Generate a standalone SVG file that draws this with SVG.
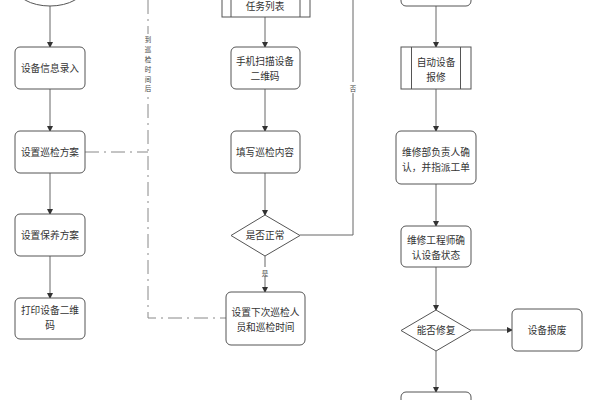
<svg xmlns="http://www.w3.org/2000/svg" width="600" height="400" viewBox="0 0 600 400">
<defs>
<marker id="ah" markerWidth="6" markerHeight="6" refX="5" refY="3" orient="auto" markerUnits="userSpaceOnUse">
<path d="M0,0 L6,3 L0,6 z" fill="#333"/>
</marker>
<style>
.n{fill:#fff;stroke:#555;stroke-width:1}
.t{font-family:"Liberation Sans","Noto Sans CJK SC",sans-serif;font-size:9.7px;fill:#333;text-anchor:middle}
.s{font-family:"Liberation Sans","Noto Sans CJK SC",sans-serif;font-size:6.5px;fill:#444;text-anchor:middle}
.c{fill:none;stroke:#666;stroke-width:1}
.a{marker-end:url(#ah)}
.d{fill:none;stroke:#888;stroke-width:1;stroke-dasharray:14 5 2 5}
</style>
</defs>
<rect width="600" height="400" fill="#fff"/>
<g id="connectors">
<path class="c a" d="M50,6 V47"/>
<path class="c a" d="M50,89 V131"/>
<path class="c a" d="M50,173 V214"/>
<path class="c a" d="M50,256 V298"/>
<path class="c a" d="M265,17 V47"/>
<path class="c a" d="M265,89 V131"/>
<path class="c a" d="M265,173 V215"/>
<path class="c a" d="M265,256 V292"/>
<path class="c" d="M300,235 H353 V0"/>
<path class="c a" d="M436,6 V47"/>
<path class="c a" d="M436,89 V131"/>
<path class="c a" d="M436,184 V226"/>
<path class="c a" d="M436,267 V310"/>
<path class="c a" d="M471,330 H512"/>
<path class="c a" d="M436,351 V392"/>
<path class="d" d="M85,152 H148"/>
<path class="d" d="M148,0 V318 H226"/>
<rect x="142" y="34" width="12" height="60" fill="#fff"/>
<text class="s" x="148" y="42">到</text>
<text class="s" x="148" y="52">巡</text>
<text class="s" x="148" y="62">检</text>
<text class="s" x="148" y="72">时</text>
<text class="s" x="148" y="82">间</text>
<text class="s" x="148" y="91">后</text>
<rect x="260" y="267" width="10" height="10" fill="#fff"/>
<text class="s" x="265" y="276">是</text>
<rect x="348" y="82" width="10" height="11" fill="#fff"/>
<text class="s" x="353" y="91">否</text>
</g>
<g id="start"><ellipse class="n" cx="50" cy="-14" rx="35" ry="20"/></g>
<g id="n1"><rect class="n" x="15" y="47" width="70" height="42" rx="5"/><text class="t" x="50" y="71.5">设备信息录入</text></g>
<g id="n2"><rect class="n" x="15" y="131" width="70" height="42" rx="5"/><text class="t" x="50" y="155.5">设置巡检方案</text></g>
<g id="n3"><rect class="n" x="15" y="214" width="70" height="42" rx="5"/><text class="t" x="50" y="238.5">设置保养方案</text></g>
<g id="n4"><rect class="n" x="15" y="298" width="70" height="41" rx="5"/><text class="t" x="50" y="314">打印设备二维</text><text class="t" x="50" y="329">码</text></g>
<g id="m0"><rect class="n" x="222" y="-25" width="88" height="42"/><path class="n" d="M231,-25 V17 M300,-25 V17"/><text class="t" x="265" y="9.5">任务列表</text></g>
<g id="m1"><rect class="n" x="231" y="47" width="69" height="42" rx="5"/><text class="t" x="265" y="65">手机扫描设备</text><text class="t" x="265" y="80">二维码</text></g>
<g id="m2"><rect class="n" x="231" y="131" width="69" height="42" rx="5"/><text class="t" x="265" y="155.5">填写巡检内容</text></g>
<g id="m3"><path class="n" d="M265,215 L300,235.5 L265,256 L231,235.5 z"/><text class="t" x="265" y="239">是否正常</text></g>
<g id="m4"><rect class="n" x="226" y="292" width="79" height="53" rx="5"/><text class="t" x="265.5" y="316">设置下次巡检人</text><text class="t" x="265.5" y="331">员和巡检时间</text></g>
<g id="r0"><rect class="n" x="401" y="-36" width="70" height="42" rx="5"/></g>
<g id="r1"><rect class="n" x="401" y="47" width="70" height="42"/><path class="n" d="M411.5,47 V89 M460.5,47 V89"/><text class="t" x="436" y="66">自动设备</text><text class="t" x="436" y="81">报修</text></g>
<g id="r2"><rect class="n" x="396" y="131" width="80" height="53" rx="5"/><text class="t" x="436" y="156">维修部负责人确</text><text class="t" x="436" y="171">认，并指派工单</text></g>
<g id="r3"><rect class="n" x="401" y="226" width="70" height="41" rx="5"/><text class="t" x="436" y="244">维修工程师确</text><text class="t" x="436" y="259">认设备状态</text></g>
<g id="r4"><path class="n" d="M436,310 L471,330.5 L436,351 L401,330.5 z"/><text class="t" x="436" y="334">能否修复</text></g>
<g id="r5"><rect class="n" x="512" y="309" width="70" height="42" rx="5"/><text class="t" x="547" y="333.5">设备报废</text></g>
<g id="r6"><rect class="n" x="401" y="392" width="70" height="42" rx="5"/></g>
</svg>
